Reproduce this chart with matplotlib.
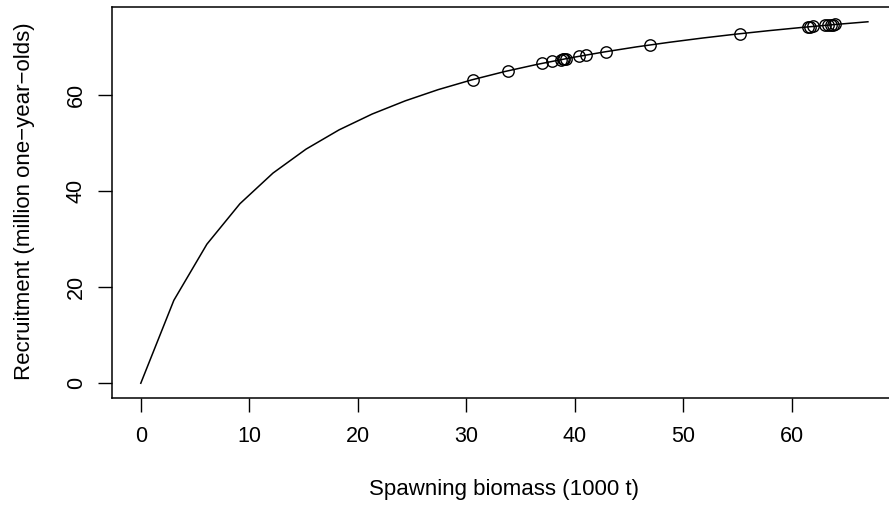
import matplotlib
matplotlib.use("Agg")
import matplotlib.pyplot as plt

# Fitted stock-recruitment curve (vertices)
curve_x = [0.0, 3.045, 6.09, 9.135, 12.18, 15.225, 18.27, 21.315, 24.36, 27.405,
           30.45, 33.495, 36.54, 39.585, 42.63, 45.675, 48.72, 51.765, 54.81,
           57.855, 60.9, 63.945, 66.99]
curve_y = [0.0, 17.24, 28.92, 37.34, 43.71, 48.69, 52.70, 55.99, 58.73, 61.07,
           63.07, 64.81, 66.33, 67.68, 68.88, 69.96, 70.92, 71.80, 72.60,
           73.33, 74.00, 74.61, 75.18]

# Observed points
obs_x = [30.6, 33.8, 37.0, 37.9, 38.7, 38.9, 39.0, 39.2, 40.4, 41.0, 42.9,
         46.9, 55.2, 61.5, 61.7, 61.9, 63.0, 63.3, 63.6, 63.8, 64.0]
obs_y = [63.16, 64.97, 66.55, 66.96, 67.31, 67.39, 67.44, 67.52, 68.02, 68.26,
         68.98, 70.36, 72.70, 74.12, 74.16, 74.20, 74.43, 74.49, 74.54, 74.58, 74.62]

x_ticks = [0, 10, 20, 30, 40, 50, 60]
y_ticks = [0, 20, 40, 60]
x_label = "Spawning biomass (1000 t)"
y_label = "Recruitment (million one\u2212year\u2212olds)"

plt.rcParams['font.family'] = ['Liberation Sans', 'DejaVu Sans']

W, H = 889, 511
fig = plt.figure(figsize=(W / 100, H / 100), dpi=100)
left, right, top, bottom = 111.7, 897.0, 7.3, 397.7
ax = fig.add_axes([left / W, 1 - bottom / H, (right - left) / W, (bottom - top) / H])

ax.plot(curve_x, curve_y, color='black', lw=1.1, solid_joinstyle='round')
ax.plot(obs_x, obs_y, linestyle='none', marker='o', mfc='none', mec='black',
        ms=8.2, mew=1.0)

ax.set_xlim(-2.68, 69.67)
ax.set_ylim(-3.01, 78.19)
ax.set_xticks(x_ticks)
ax.set_yticks(y_ticks)
ax.set_xticklabels([str(v) for v in x_ticks])
ax.set_yticklabels([str(v) for v in y_ticks], rotation=90, va='center')

fs_tick = 15.5
fs_lab = 16
for s in ax.spines.values():
    s.set_linewidth(1.1)
ax.tick_params(direction='out', length=10, width=1.0, labelsize=fs_tick)
ax.tick_params(axis='x', pad=10.4)
ax.tick_params(axis='y', pad=8)

fig.text(504 / W, 1 - 490 / H, x_label, ha='center', va='center', fontsize=fs_lab)
fig.text(25 / W, 1 - 201 / H, y_label, ha='center', va='center', rotation=90, fontsize=fs_lab)

fig.savefig("out.png", dpi=100)
